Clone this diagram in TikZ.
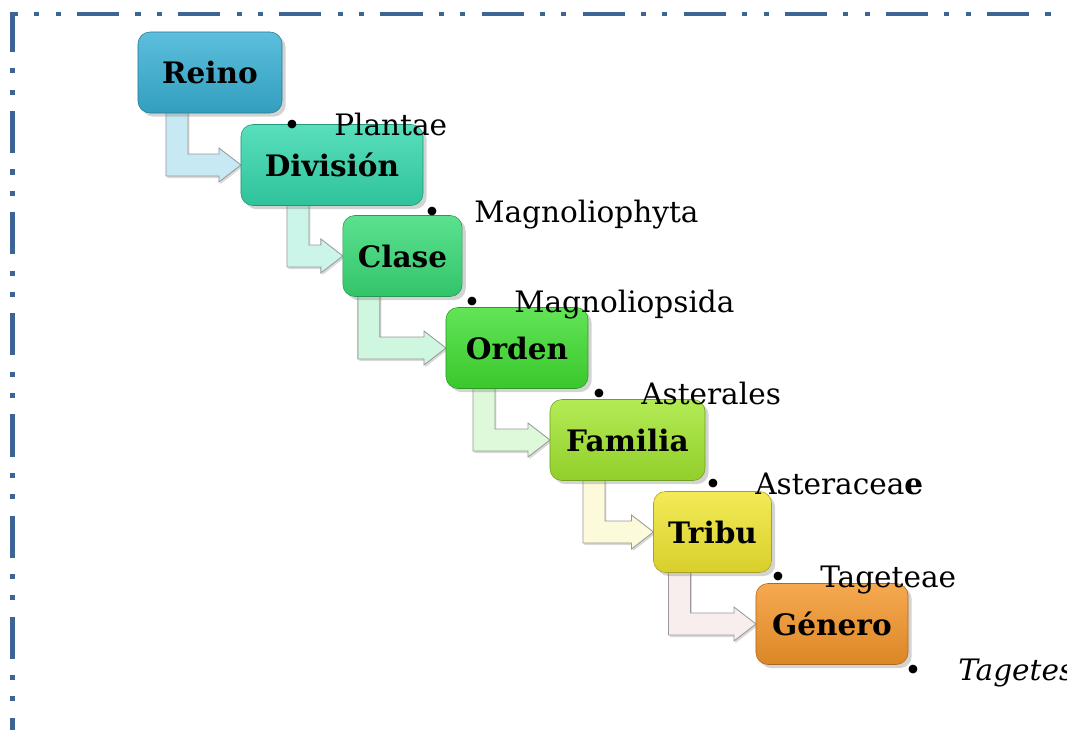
\documentclass[tikz,border=0pt]{standalone}
\usepackage{fontspec}
\setmainfont{DejaVu Serif}
\usetikzlibrary{calc,shadows,backgrounds}

\definecolor{marco}{RGB}{60,100,150}
\definecolor{reino}{RGB}{56,176,212}
\definecolor{division}{RGB}{52,216,172}
\definecolor{clase}{RGB}{56,218,118}
\definecolor{orden}{RGB}{64,222,50}
\definecolor{familia}{RGB}{162,230,48}
\definecolor{tribu}{RGB}{240,230,50}
\definecolor{genero}{RGB}{244,150,42}
\definecolor{rosado}{RGB}{248,238,238}

% bent arrow from box #1 to box #2, #3 = shaft offset, #4 = colour
\newcommand{\flechapaso}[4]{%
  \filldraw[flecha=#4] ($(#1.south west)+(#3,-6)$) -- ($(#1.south west)+(#3+22,-6)$)
    -- ($(#1.south west |- #2.west)+(#3+22,-11)$) -- ($(#2.west)+(-22,-11)$)
    -- ($(#2.west)+(-22,-17)$) -- (#2.west) -- ($(#2.west)+(-22,17)$)
    -- ($(#2.west)+(-22,11)$) -- ($(#1.south west |- #2.west)+(#3,11)$) -- cycle;}

\begin{document}
\begin{tikzpicture}[x=0.025cm, y=-0.025cm,
    caja/.style={rounded corners=0.3cm, draw=#1!70!black, top color=#1!82!white,
      middle color=#1, bottom color=#1!90!black, inner sep=0pt, outer sep=0pt,
      minimum height=2.025cm, drop shadow={opacity=0.35},
      font=\bfseries\fontsize{21}{25}\selectfont},
    flecha/.style={draw=gray!80, fill=#1, line width=0.6pt,
      drop shadow={opacity=0.3, shadow xshift=1pt, shadow yshift=-1.5pt}},
    item/.style={anchor=base west, inner sep=0pt, font=\fontsize{21}{25}\selectfont}]
    \useasboundingbox (0,0) rectangle (1067,730);
    % frame
    \draw[marco, line width=2.85pt, dash pattern=on 29.9pt off 11.6pt on 3.6pt off 11.6pt on 3.6pt off 11.6pt, dash phase=27pt] (14,14) -- (1080,14);
    \draw[marco, line width=2.85pt, dash pattern=on 29.9pt off 11.6pt on 3.6pt off 11.6pt on 3.6pt off 11.6pt, dash phase=1.4pt] (12.5,12) -- (12.5,740);
    % boxes
    \node[caja=reino, minimum width=3.6cm] (reino) at (210,72.5) {Reino};
    \node[caja=division, minimum width=4.55cm] (division) at (332,165) {División};
    \node[caja=clase, minimum width=2.98cm] (clase) at (402.5,256) {Clase};
    \node[caja=orden, minimum width=3.55cm] (orden) at (517,348) {Orden};
    \node[caja=familia, minimum width=3.875cm] (familia) at (627.5,440) {Familia};
    \node[caja=tribu, minimum width=2.95cm] (tribu) at (712.5,532) {Tribu};
    \node[caja=genero, minimum width=3.8cm] (genero) at (832,624) {Género};
    % arrows
    \begin{scope}[on background layer]
        \flechapaso{reino}{division}{28}{reino!28!white}
        \flechapaso{division}{clase}{46}{division!25!white}
        \flechapaso{clase}{orden}{15}{clase!24!white}
        \flechapaso{orden}{familia}{27}{orden!18!white}
        \flechapaso{familia}{tribu}{33}{tribu!18!white}
        \flechapaso{tribu}{genero}{15}{rosado}
    \end{scope}
    % items
    \node[item] (plantae) at (283,135) {\makebox[1.275cm][l]{\textbullet}Plantae};
    \node[item] (magnoliophyta) at (423,222) {\makebox[1.275cm][l]{\textbullet}Magnoliophyta};
    \node[item] (magnoliopsida) at (463,312) {\makebox[1.275cm][l]{\textbullet}Magnoliopsida};
    \node[item] (asterales) at (590,404) {\makebox[1.275cm][l]{\textbullet}Asterales};
    \node[item] (asteraceae) at (704,494) {\makebox[1.275cm][l]{\textbullet}Asteracea\textbf{e}};
    \node[item] (tageteae) at (769,587) {\makebox[1.275cm][l]{\textbullet}Tageteae};
    \node[item] (tagetes) at (904,680) {\makebox[1.35cm][l]{\textbullet}\textit{Tagetes}};
\end{tikzpicture}
\end{document}
